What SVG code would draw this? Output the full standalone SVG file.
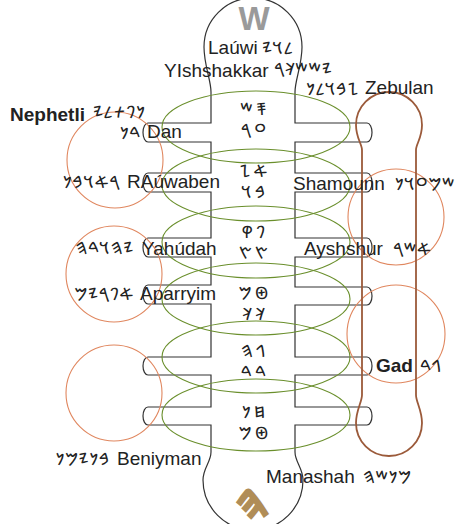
<svg xmlns="http://www.w3.org/2000/svg" width="455" height="524" viewBox="0 0 455 524">
<style>
.lbl{font-family:"Liberation Sans",Arial,sans-serif;font-size:19px;fill:#222}
.b{font-weight:bold}
.ph{font-family:"Noto Sans Phoenician","DejaVu Sans","Noto Sans",sans-serif;font-size:17px;fill:#222;letter-spacing:0.5px}
.c{font-family:"Noto Sans Phoenician","DejaVu Sans","Noto Sans",sans-serif;font-size:17px;fill:#222;text-anchor:middle;letter-spacing:3px}
.ell{fill:none;stroke:#6a8f2c;stroke-width:1.1}
.orc{fill:none;stroke:#e0875f;stroke-width:1.1}
.outline{fill:none;stroke:#333;stroke-width:1.2}
.brown{fill:none;stroke:#9b5a3a;stroke-width:1.8}
</style>
<rect width="455" height="524" fill="#fff"/>
<g id="decor">
<text x="254" y="30" font-family="Liberation Sans,Arial,sans-serif" font-size="33" font-weight="bold" fill="#9a9a9a" text-anchor="middle">W</text>
<text x="0" y="0" transform="translate(256,518) rotate(-18)" font-family="Noto Sans Phoenician,DejaVu Sans,sans-serif" font-size="40" font-weight="bold" fill="#b08d57" stroke="#b08d57" stroke-width="2" text-anchor="middle">𐤄</text>
</g>
<g id="connectors">
<path class="outline" d="M211 92 L211 123 L148 123 A5 9.5 0 0 0 148 142 L211 142 L211 173 L148 173 A5 9.5 0 0 0 148 192 L211 192 L211 238 L148 238 A5 9.5 0 0 0 148 257 L211 257 L211 285 L148 285 A5 9.5 0 0 0 148 304 L211 304 L211 357 L148 357 A5 9 0 0 0 148 375 L211 375 L211 407 L148 407 A5 9 0 0 0 148 425 L211 425 L211 452 C211 462 203 468 203 480 A50 50 0 0 0 303 480 C303 468 295 462 295 452 L295 425 L367 425 A5 9 0 0 0 367 407 L295 407 L295 375 L367 375 A5 9 0 0 0 367 357 L295 357 L295 305 L367 305 A5 9 0 0 0 367 287 L295 287 L295 257 L367 257 A5 9.5 0 0 0 367 238 L295 238 L295 192 L367 192 A5 9.5 0 0 0 367 173 L295 173 L295 142 L367 142 A5 9.5 0 0 0 367 123 L295 123 L295 92 C295 80 302 65 302 47 A49 49 0 0 0 204 47 C204 65 211 80 211 92 Z"/>
<ellipse class="ell" cx="256" cy="127" rx="94" ry="36"/>
<ellipse class="ell" cx="256" cy="185" rx="94" ry="36"/>
<ellipse class="ell" cx="256" cy="242" rx="94" ry="36"/>
<ellipse class="ell" cx="256" cy="299" rx="94" ry="36"/>
<ellipse class="ell" cx="256" cy="357" rx="94" ry="36"/>
<ellipse class="ell" cx="256" cy="415" rx="94" ry="36"/>
<circle class="orc" cx="115" cy="160" r="48"/>
<circle class="orc" cx="114" cy="274" r="48"/>
<circle class="orc" cx="114" cy="393" r="48"/>
<circle class="orc" cx="396" cy="217" r="48"/>
<circle class="orc" cx="396" cy="334" r="49"/>
<path class="brown" d="M362 395 L362 150 C362 144 356 138 356 125 A33 33 0 0 1 422 125 C422 138 416 144 416 150 L416 395 C416 402 422 410 422 423 A33 33 0 0 1 356 423 C356 410 362 402 362 395 Z"/>
</g>
<g id="center">
<text class="c" x="255" y="115">𐤎𐤔</text>
<text class="c" x="255" y="136">𐤏𐤓</text>
<text class="c" x="255" y="177">𐤀𐤆</text>
<text class="c" x="255" y="198">𐤁𐤅</text>
<text class="c" x="255" y="238">𐤐𐤒</text>
<text class="c" x="255" y="259">𐤑𐤑</text>
<text class="c" x="255" y="299">𐤈𐤌</text>
<text class="c" x="255" y="320">𐤊𐤊</text>
<text class="c" x="255" y="357">𐤂𐤄</text>
<text class="c" x="255" y="378">𐤃𐤃</text>
<text class="c" x="255" y="418">𐤇𐤍</text>
<text class="c" x="255" y="439">𐤈𐤌</text>
</g>
<g id="lawi"><text class="lbl" x="208" y="54">Laúwi</text><text class="ph" x="262" y="54">𐤋𐤅𐤉</text></g>
<g id="yishshakkar"><text class="lbl" x="164" y="77">YIshshakkar</text><text class="ph" x="274" y="75">𐤉𐤔𐤔𐤊𐤓</text></g>
<g id="zebulan"><text class="ph" x="359" y="95" text-anchor="end">𐤆𐤁𐤅𐤋𐤍</text><text class="lbl" x="365" y="94">Zebulan</text></g>
<g id="nephetli"><text class="lbl b" x="10" y="121">Nephetli</text><text class="ph" x="93" y="118">𐤍𐤐𐤕𐤋𐤉</text></g>
<g id="dan"><text class="ph" x="141" y="139" text-anchor="end">𐤃𐤍</text><text class="lbl" x="147" y="138">Dan</text></g>
<g id="rauwaben"><text class="ph" x="120" y="188" text-anchor="end">𐤓𐤀𐤅𐤁𐤍</text><text class="lbl" x="127" y="188">RAúwaben</text></g>
<g id="shamounn"><text class="lbl" x="293" y="190">Shamounn</text><text class="ph" x="395" y="190">𐤔𐤌𐤏𐤅𐤍</text></g>
<g id="yahudah"><text class="ph" x="134" y="254" text-anchor="end">𐤉𐤄𐤅𐤃𐤄</text><text class="lbl" x="142" y="255">Yahúdah</text></g>
<g id="ayshshur"><text class="lbl" x="304" y="255">Ayshshur</text><text class="ph" x="393" y="255">𐤀𐤔𐤓</text></g>
<g id="aparryim"><text class="ph" x="134" y="300" text-anchor="end">𐤀𐤐𐤓𐤉𐤌</text><text class="lbl" x="140" y="300">Aparryim</text></g>
<g id="gad"><text class="lbl b" x="376" y="372">Gad</text><text class="ph" x="420" y="372">𐤂𐤃</text></g>
<g id="beniyman"><text class="ph" x="110" y="465" text-anchor="end">𐤁𐤍𐤉𐤌𐤍</text><text class="lbl" x="117" y="465">Beniyman</text></g>
<g id="manashah"><text class="lbl" x="266" y="483">Manashah</text><text class="ph" x="363" y="483">𐤌𐤍𐤔𐤄</text></g>
</svg>
